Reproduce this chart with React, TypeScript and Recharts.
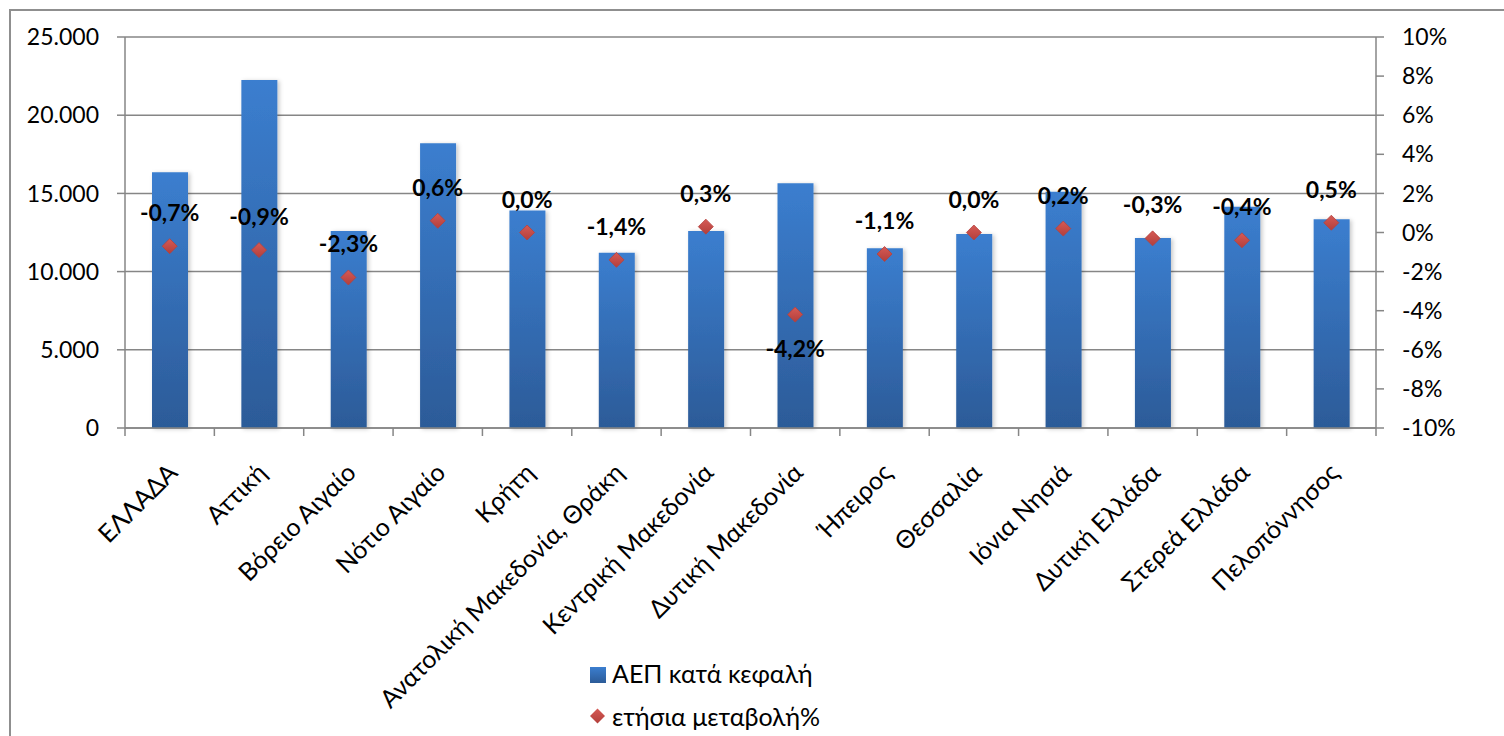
import React from 'react';
import { ComposedChart, Bar, Line, XAxis, YAxis, CartesianGrid, Legend, LabelList } from 'recharts';

const regions = [
  'ΕΛΛΑΔΑ',
  'Αττική',
  'Βόρειο Αιγαίο',
  'Νότιο Αιγαίο',
  'Κρήτη',
  'Ανατολική Μακεδονία, Θράκη',
  'Κεντρική Μακεδονία',
  'Δυτική Μακεδονία',
  'Ήπειρος',
  'Θεσσαλία',
  'Ιόνια Νησιά',
  'Δυτική Ελλάδα',
  'Στερεά Ελλάδα',
  'Πελοπόννησος',
];
const gdpPerCapita = [16350, 22250, 12600, 18200, 13900, 11200, 12600, 15650, 11500, 12400, 15100, 12150, 14150, 13350];
const annualChange = [-0.7, -0.9, -2.3, 0.6, 0.0, -1.4, 0.3, -4.2, -1.1, 0.0, 0.2, -0.3, -0.4, 0.5];
const leftTicks = [0, 5000, 10000, 15000, 20000, 25000];
const rightTicks = [-10, -8, -6, -4, -2, 0, 2, 4, 6, 8, 10];
const seriesNames = ['ΑΕΠ κατά κεφαλή', 'ετήσια μεταβολή%'];

const data = regions.map((region, i) => ({
  region,
  gdp: gdpPerCapita[i],
  change: annualChange[i],
}));

const FONT = 'Lato, "Open Sans", sans-serif';
const GRID = '#868686';
const CHART_W = 1504;
const CHART_H = 736;
const LEFT_W = 125;
const RIGHT_W = 128;

const fmtThousands = (v: number) => (v === 0 ? '0' : v.toLocaleString('de-DE'));
const fmtPct = (v: number) => `${v}%`;
const fmtChange = (v: number) => `${v.toFixed(1).replace('.', ',')}%`;

const CategoryTick = (props: any) => {
  const { x, y, payload, index, visibleTicksCount } = props;
  const count = visibleTicksCount || regions.length;
  const w = typeof props.width === 'number' ? props.width : CHART_W - LEFT_W - RIGHT_W;
  const band = w / count;
  const ax = x + 3;
  const ay = y + 40;
  return (
    <g>
      <line x1={x - band / 2} x2={x - band / 2} y1={y} y2={y + 8} stroke={GRID} strokeWidth={1.5} />
      {index === count - 1 && (
        <line x1={x + band / 2} x2={x + band / 2} y1={y} y2={y + 8} stroke={GRID} strokeWidth={1.5} />
      )}
      <text
        x={ax}
        y={ay}
        dy="0.35em"
        textAnchor="end"
        transform={`rotate(-45, ${ax}, ${ay})`}
        fill="#000"
        fontSize={25}
        fontFamily={FONT}
      >
        {payload.value}
      </text>
    </g>
  );
};

const Diamond = (props: any) => {
  const { cx, cy } = props;
  if (cx == null || cy == null) return <g />;
  const s = 7.5;
  return (
    <path
      d={`M${cx},${cy - s} L${cx + s},${cy} L${cx},${cy + s} L${cx - s},${cy} Z`}
      fill="url(#diamondGrad)"
      stroke="#b5413d"
      strokeWidth={0.8}
    />
  );
};

const ChangeLabel = (props: any) => {
  const { x, y, value } = props;
  if (x == null || y == null) return null;
  const below = value < -3;
  return (
    <text
      x={x}
      y={below ? y + 33 : y - 34}
      textAnchor="middle"
      dominantBaseline="central"
      fontSize={23}
      fontWeight="bold"
      fontFamily={FONT}
      fill="#000"
    >
      {fmtChange(value)}
    </text>
  );
};

const renderLegend = () => (
  <div style={{ fontFamily: FONT, fontSize: 25, color: '#000', lineHeight: '30px' }}>
    <div style={{ display: 'flex', alignItems: 'center', height: 30, marginBottom: 13 }}>
      <svg width={22} height={30} style={{ display: 'block', flex: 'none' }}>
        <rect x={0} y={9} width={16} height={16} fill="url(#barGrad)" />
      </svg>
      <span style={{ whiteSpace: 'nowrap' }}>{seriesNames[0]}</span>
    </div>
    <div style={{ display: 'flex', alignItems: 'center', height: 30 }}>
      <svg width={22} height={30} style={{ display: 'block', flex: 'none' }}>
        <path d="M7.5,7.5 L15,15 L7.5,22.5 L0,15 Z" fill="url(#diamondGrad)" />
      </svg>
      <span style={{ whiteSpace: 'nowrap' }}>{seriesNames[1]}</span>
    </div>
  </div>
);

export default function App() {
  return (
    <div
      style={{
        position: 'absolute',
        left: 0,
        top: 0,
        width: CHART_W,
        height: CHART_H,
        overflow: 'hidden',
        background: '#fff',
      }}
    >
      <ComposedChart
        width={CHART_W}
        height={CHART_H}
        data={data}
        margin={{ top: 37, right: 0, bottom: 0, left: 0 }}
      >
        <defs>
          <linearGradient id="barGrad" x1="0" y1="0" x2="0" y2="1">
            <stop offset="0%" stopColor="#3b7ecf" />
            <stop offset="100%" stopColor="#2c5b98" />
          </linearGradient>
          <linearGradient id="diamondGrad" x1="0" y1="0" x2="0" y2="1">
            <stop offset="0%" stopColor="#d65a55" />
            <stop offset="100%" stopColor="#b23f3b" />
          </linearGradient>
          <filter id="barShadow" x="-20%" y="-5%" width="140%" height="110%">
            <feDropShadow dx="2" dy="1" stdDeviation="2" floodColor="#000" floodOpacity="0.22" />
          </filter>
        </defs>
        <CartesianGrid yAxisId="left" vertical={false} stroke={GRID} strokeWidth={1.5} />
        <XAxis
          dataKey="region"
          height={CHART_H - 428}
          interval={0}
          tickLine={false}
          tickSize={0}
          tickMargin={0}
          axisLine={{ stroke: GRID, strokeWidth: 1.5 }}
          tick={<CategoryTick />}
        />
        <YAxis
          yAxisId="left"
          width={LEFT_W}
          domain={[0, 25000]}
          ticks={leftTicks}
          interval={0}
          tickFormatter={fmtThousands}
          axisLine={{ stroke: GRID, strokeWidth: 1.5 }}
          tickLine={{ stroke: GRID, strokeWidth: 1.5 }}
          tickSize={8}
          tickMargin={18}
          tick={{ fill: '#000', fontSize: 23, fontFamily: FONT }}
        />
        <YAxis
          yAxisId="right"
          orientation="right"
          width={RIGHT_W}
          domain={[-10, 10]}
          ticks={rightTicks}
          interval={0}
          tickFormatter={fmtPct}
          axisLine={{ stroke: GRID, strokeWidth: 1.5 }}
          tickLine={{ stroke: GRID, strokeWidth: 1.5 }}
          tickSize={8}
          tickMargin={18}
          tick={{ fill: '#000', fontSize: 23, fontFamily: FONT }}
        />
        <Bar
          yAxisId="left"
          dataKey="gdp"
          name={seriesNames[0]}
          fill="url(#barGrad)"
          barSize={36}
          filter="url(#barShadow)"
          legendType="square"
          isAnimationActive={false}
        />
        <Line
          yAxisId="right"
          dataKey="change"
          name={seriesNames[1]}
          stroke="none"
          dot={<Diamond />}
          activeDot={false}
          legendType="diamond"
          isAnimationActive={false}
        >
          <LabelList dataKey="change" content={<ChangeLabel />} />
        </Line>
        <Legend
          layout="vertical"
          align="center"
          verticalAlign="middle"
          wrapperStyle={{ left: 590, top: 658, width: 300 }}
          content={renderLegend}
        />
      </ComposedChart>
      <div
        style={{
          position: 'absolute',
          left: 9,
          top: 9,
          width: 1600,
          height: 800,
          border: '2.5px solid #8f8f8f',
          pointerEvents: 'none',
        }}
      />
    </div>
  );
}
